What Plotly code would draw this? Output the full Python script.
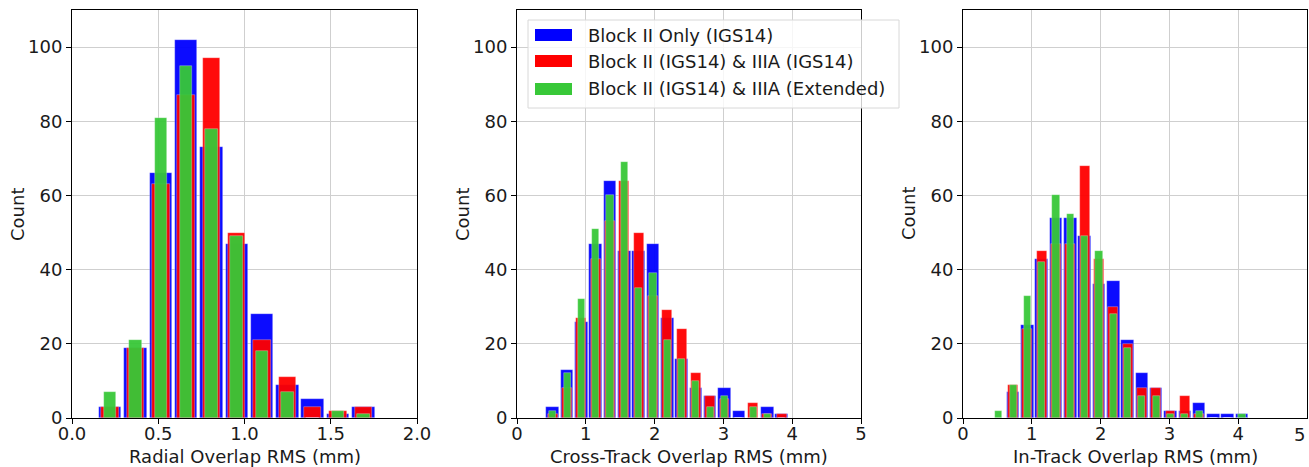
import plotly.graph_objects as go

# ---------------- data ----------------
series_names = ["Block II Only (IGS14)", "Block II (IGS14) & IIIA (IGS14)", "Block II (IGS14) & IIIA (Extended)"]

radial_bins = [0.221, 0.368, 0.515, 0.661, 0.808, 0.955, 1.102, 1.249, 1.395, 1.542, 1.689]
radial_blue = [3, 19, 66, 102, 73, 47, 28, 9, 5, 1, 3]
radial_red = [3, 19, 63, 87, 97, 50, 21, 11, 3, 2, 3]
radial_green = [7, 21, 81, 95, 78, 49, 18, 7, 0, 2, 1]

cross_bins = [0.52, 0.728, 0.936, 1.144, 1.352, 1.56, 1.768, 1.976, 2.184, 2.392,
              2.60, 2.808, 3.016, 3.224, 3.432, 3.64, 3.848]
cross_blue = [3, 13, 26, 47, 64, 45, 45, 47, 27, 16, 8, 6, 8, 2, 0, 3, 1]
cross_red = [1, 8, 27, 43, 53, 64, 50, 33, 29, 24, 12, 6, 5, 0, 4, 1, 1]
cross_green = [2, 12, 32, 51, 60, 69, 35, 39, 21, 16, 10, 3, 6, 0, 3, 1, 0]

intrack_bins = [0.52, 0.728, 0.936, 1.144, 1.352, 1.56, 1.768, 1.976, 2.184, 2.392,
                2.60, 2.808, 3.016, 3.224, 3.432, 3.64, 3.848, 4.056]
intrack_blue = [0, 7, 25, 43, 54, 54, 49, 36, 37, 21, 12, 8, 2, 2, 4, 1, 1, 1]
intrack_red = [0, 9, 24, 45, 47, 47, 68, 43, 30, 20, 8, 8, 2, 6, 1, 0, 0, 0]
intrack_green = [2, 9, 33, 42, 60, 55, 49, 45, 28, 19, 6, 6, 1, 1, 2, 0, 0, 1]

x_titles = ["Radial Overlap RMS (mm)", "Cross-Track Overlap RMS (mm)", "In-Track Overlap RMS (mm)"]
y_title = "Count"
x_ticks = [[0.0, 0.5, 1.0, 1.5, 2.0], [0, 1, 2, 3, 4, 5], [0, 1, 2, 3, 4, 5]]
x_ticktext = [["0.0", "0.5", "1.0", "1.5", "2.0"], ["0", "1", "2", "3", "4", "5"], ["0", "1", "2", "3", "4", "5"]]
x_ranges = [[0, 2], [0, 5], [0, 5]]
y_ticks = [0, 20, 40, 60, 80, 100]

# ---------------- style ----------------
W, H = 1309, 467
TOP, BOT = 10, 418          # pixel rows of the plot-area top / bottom
colors = ["#0000ff", "#ff0000", "#38c838"]
width_frac = [0.88, 0.69, 0.50]
FONT = "DejaVu Sans"
FS = 18
TXT = "#1a1a1a"
domains = [[72 / W, 417 / W], [517 / W, 861 / W], [963 / W, 1307 / W]]


def px(xp):
    return xp / W


def py(yp):
    # paper coordinates are relative to the plot area (inside margins)
    return (BOT - yp) / (BOT - TOP)


panels = [
    (radial_bins, [radial_blue, radial_red, radial_green]),
    (cross_bins, [cross_blue, cross_red, cross_green]),
    (intrack_bins, [intrack_blue, intrack_red, intrack_green]),
]

fig = go.Figure()
for p, (bins, vals) in enumerate(panels):
    step = bins[1] - bins[0]
    xa = "x" if p == 0 else f"x{p + 1}"
    ya = "y" if p == 0 else f"y{p + 1}"
    for s in range(3):
        fig.add_trace(go.Bar(
            x=bins, y=vals[s], width=step * width_frac[s],
            marker=dict(color=colors[s], opacity=0.95,
                        line=dict(color="rgba(255,255,255,0.5)", width=0.6)),
            name=series_names[s], showlegend=False, xaxis=xa, yaxis=ya,
        ))

layout = dict(
    width=W, height=H,
    margin=dict(l=0, r=0, t=TOP, b=H - BOT),
    paper_bgcolor="white", plot_bgcolor="white",
    barmode="overlay", bargap=0,
    font=dict(family=FONT, size=FS, color=TXT),
    showlegend=False,
)
for p in range(3):
    xk = "xaxis" if p == 0 else f"xaxis{p + 1}"
    yk = "yaxis" if p == 0 else f"yaxis{p + 1}"
    xa_anchor = "y" if p == 0 else f"y{p + 1}"
    ya_anchor = "x" if p == 0 else f"x{p + 1}"
    tv = x_ticks[p] if p < 2 else x_ticks[p][:-1]
    tt = x_ticktext[p] if p < 2 else x_ticktext[p][:-1]
    layout[xk] = dict(
        domain=domains[p], anchor=xa_anchor, range=x_ranges[p],
        tickvals=tv, ticktext=tt,
        showline=True, mirror=True, linecolor="black", linewidth=1,
        ticks="outside", ticklen=5, tickwidth=1, tickcolor="black",
        showgrid=True, gridcolor="#cfcfcf", gridwidth=1, zeroline=False,
        tickfont=dict(size=FS), automargin=False, ticklabelstandoff=-6,
    )
    layout[yk] = dict(
        domain=[0, 1], anchor=ya_anchor, range=[0, 110],
        tickvals=y_ticks,
        showline=True, mirror=True, linecolor="black", linewidth=1,
        ticks="outside", ticklen=5, tickwidth=1, tickcolor="black",
        showgrid=True, gridcolor="#cfcfcf", gridwidth=1, zeroline=False,
        tickfont=dict(size=FS), automargin=False,
    )
fig.update_layout(**layout)

annotations = []
# axis titles
for p in range(3):
    d0, d1 = domains[p]
    annotations.append(dict(xref="paper", yref="paper", x=(d0 + d1) / 2, y=py(456),
                            xanchor="center", yanchor="middle", showarrow=False,
                            text=x_titles[p], font=dict(size=FS, color=TXT)))
    annotations.append(dict(xref="paper", yref="paper", x=d0 - px(55), y=py(214),
                            xanchor="center", yanchor="middle", showarrow=False, textangle=-90,
                            text=y_title, font=dict(size=FS, color=TXT)))
# right-most tick label of third panel (sits on the canvas edge)
annotations.append(dict(xref="x3", yref="paper", x=x_ticks[2][-1], y=py(434), xanchor="right",
                        yanchor="middle", showarrow=False, text=x_ticktext[2][-1],
                        font=dict(size=FS, color=TXT)))

# manual legend (matplotlib-style wide patches) inside the middle panel
shapes = [dict(type="rect", xref="paper", yref="paper",
               x0=px(528), x1=px(899), y0=py(108), y1=py(20),
               fillcolor="rgba(255,255,255,0.8)", line=dict(color="#d8d8d8", width=1),
               layer="above")]
row_y = [35, 61, 89]
for s in range(3):
    shapes.append(dict(type="rect", xref="paper", yref="paper",
                       x0=px(535), x1=px(572), y0=py(row_y[s] + 6), y1=py(row_y[s] - 6),
                       fillcolor=colors[s], line=dict(width=0), layer="above"))
    annotations.append(dict(xref="paper", yref="paper", x=px(586), y=py(row_y[s]),
                            xanchor="left", yanchor="middle", showarrow=False,
                            text=series_names[s], font=dict(family=FONT, size=FS, color=TXT)))
fig.update_layout(shapes=shapes, annotations=annotations)

fig.write_html("out.html")
